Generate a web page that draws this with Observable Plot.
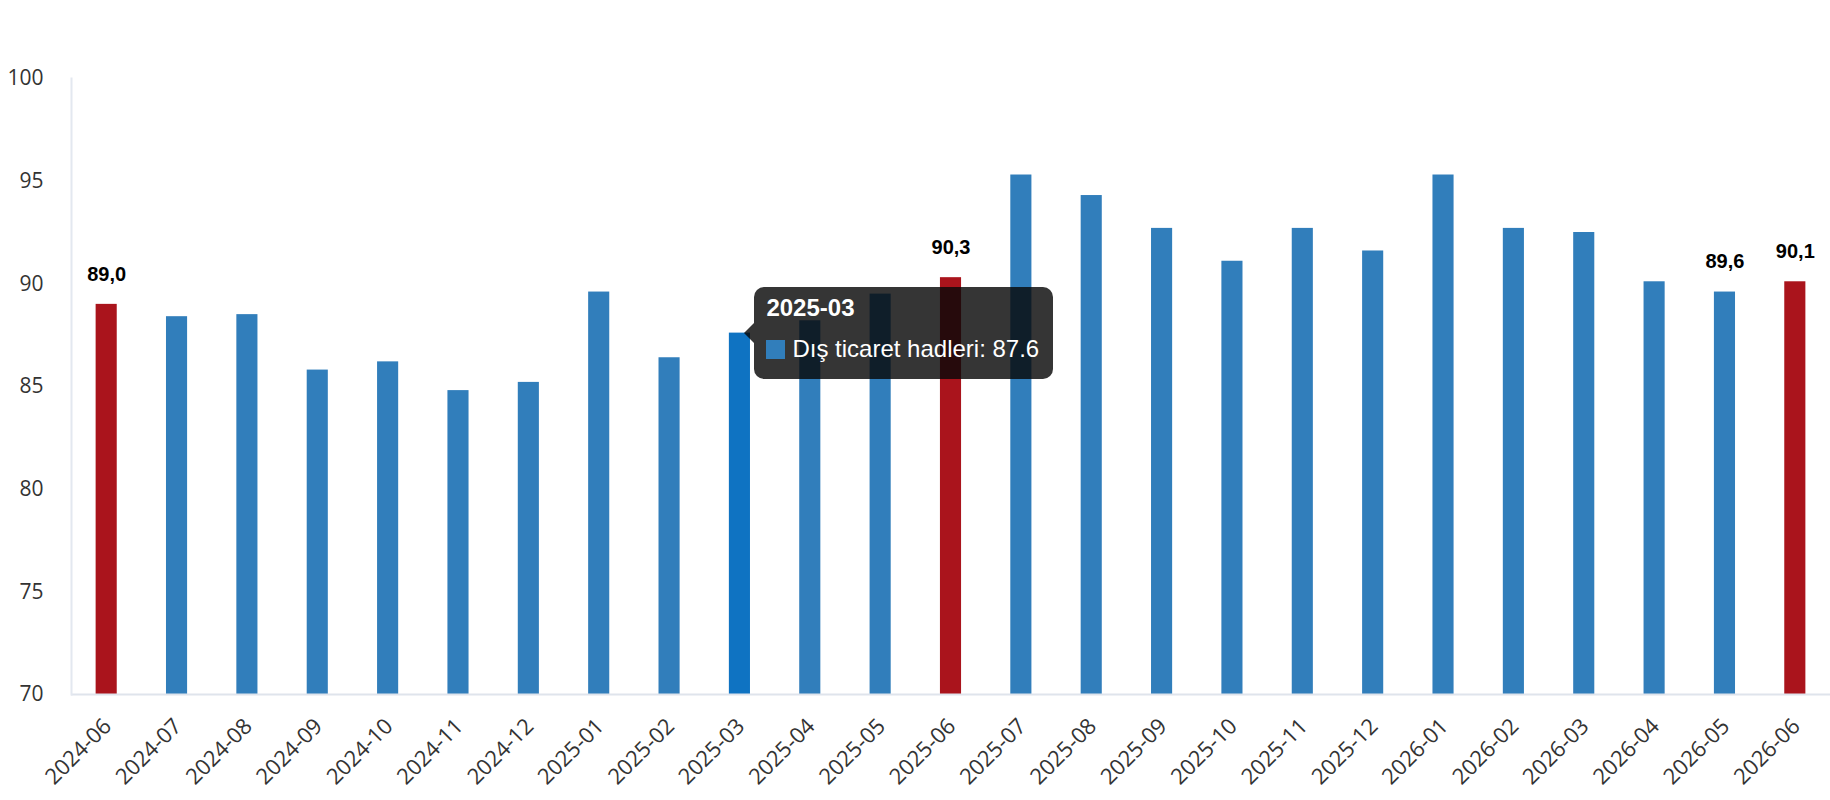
<!DOCTYPE html>
<html>
<head>
<meta charset="utf-8">
<script src="https://cdn.jsdelivr.net/npm/d3@7"></script>
<script src="https://cdn.jsdelivr.net/npm/@observablehq/plot@0.6"></script>
<style>
  html, body { margin: 0; padding: 0; background: #fff; }
  #wrap { position: relative; width: 1830px; height: 800px; }
  #tip {
    position: absolute; box-sizing: border-box; width: 299px; height: 92px;
    background: rgba(8,8,8,0.82); border-radius: 10px; color: #fff;
    font-family: "Liberation Sans", Arial, sans-serif; font-size: 24px; line-height: 1.2;
    padding: 7px 12px; white-space: nowrap;
  }
  #tip::before {
    content: ""; position: absolute; left: -10px; top: 50%; margin-top: -10px;
    border-top: 10px solid transparent; border-bottom: 10px solid transparent;
    border-right: 10px solid rgba(8,8,8,0.82);
  }
  #tip .t { font-weight: bold; }
  #tip .r { margin-top: 13px; display: flex; align-items: center; }
  #tip .sq { display: inline-block; width: 19px; height: 19px; margin-right: 7px; }
</style>
</head>
<body>
<div id="wrap"></div>
<script>
const months = ["2024-06","2024-07","2024-08","2024-09","2024-10","2024-11","2024-12",
  "2025-01","2025-02","2025-03","2025-04","2025-05","2025-06","2025-07","2025-08","2025-09",
  "2025-10","2025-11","2025-12","2026-01","2026-02","2026-03","2026-04","2026-05","2026-06"];
const values = [89.0,88.4,88.5,85.8,86.2,84.8,85.2,89.6,86.4,87.6,88.2,89.5,90.3,95.3,94.3,92.7,
  91.1,92.7,91.6,95.3,92.7,92.5,90.1,89.6,90.1];
const redMonths = ["2024-06","2025-06","2026-06"];
const labeledMonths = ["2024-06","2025-06","2026-05","2026-06"];
const hoverMonth = "2025-03";
const seriesName = "Dış ticaret hadleri";
const yTicks = [70,75,80,85,90,95,100];

const BLUE = "#317ebb", RED = "#aa141c", HOVER = "#0f73c2";
const data = months.map((m, i) => ({month: m, value: values[i]}));
const colorOf = d => redMonths.includes(d.month) ? RED : (d.month === hoverMonth ? HOVER : BLUE);

const chart = Plot.plot({
  width: 1830, height: 800,
  marginLeft: 71, marginRight: 0, marginTop: 78, marginBottom: 106,
  style: {fontFamily: "'Open Sans', sans-serif", fontSize: "21px", color: "#333", background: "#fff"},
  x: {type: "band", domain: months, paddingInner: 0.7, paddingOuter: 0.35, round: false, label: null},
  y: {domain: [70, 100], label: null},
  marks: [
    Plot.barY(data, {x: "month", y: "value", fill: colorOf, clip: true}),
    Plot.ruleY([70], {stroke: "#dfe4ec", strokeWidth: 2}),
    Plot.frame({anchor: "left", stroke: "#e3e8f0", strokeWidth: 2}),
    Plot.axisY({ticks: yTicks, tickSize: 0, tickPadding: 28, label: null, fontSize: 21}),
    Plot.axisX({tickRotate: -45, tickSize: 0, tickPadding: 28, dx: 1, label: null, fontSize: 22}),
    Plot.text(data.filter(d => labeledMonths.includes(d.month)), {
      x: "month", y: "value", dy: -30,
      text: d => d.value.toFixed(1).replace(".", ","),
      fontWeight: "bold", fontSize: 20, fill: "#000",
      fontFamily: "'Liberation Sans', Arial, sans-serif"
    })
  ]
});
const wrap = document.getElementById("wrap");
wrap.appendChild(chart);

// tooltip anchored to the hovered bar through the scales
const xs = chart.scale("x"), ys = chart.scale("y");
const hv = data.find(d => d.month === hoverMonth);
const cx = xs.apply(hoverMonth) + xs.bandwidth / 2;
const cy = ys.apply(hv.value);
const tip = document.createElement("div");
tip.id = "tip";
tip.innerHTML = `<div class="t">${hoverMonth}</div><div class="r"><span class="sq" style="background:${BLUE}"></span>${seriesName}: ${hv.value}</div>`;
tip.style.left = (cx + 15) + "px";
tip.style.top = (cy - 46) + "px";
wrap.appendChild(tip);
</script>
</body>
</html>
